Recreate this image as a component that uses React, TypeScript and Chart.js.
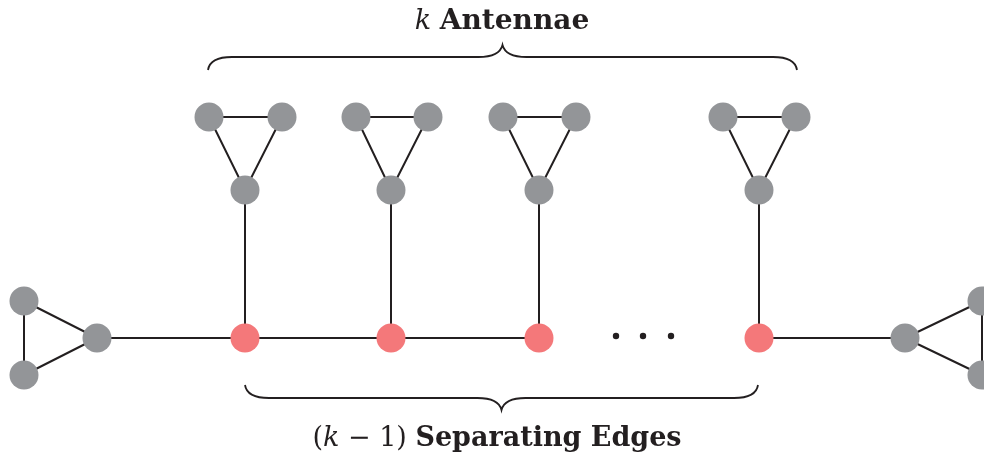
import { useEffect, useRef } from "react";
import { Chart, registerables } from "chart.js";
Chart.register(...registerables);

// Node positions (diagram units = pixels of a 984x452 layout)
const nodeX = [24, 24, 97, 245, 391, 539, 759, 905, 982, 982, 245, 209, 282, 391, 356, 428, 539, 503, 576, 759, 723, 796];
const nodeY = [301, 375, 338, 338, 338, 338, 338, 338, 301, 375, 190, 117, 117, 190, 117, 117, 190, 117, 117, 190, 117, 117];
const redNodes = [3, 4, 5, 6];
const edgeFrom = [0, 0, 1, 2, 3, 4, 6, 7, 7, 8, 3, 10, 10, 11, 4, 13, 13, 14, 5, 16, 16, 17, 6, 19, 19, 20];
const edgeTo = [1, 2, 2, 3, 4, 5, 7, 8, 9, 9, 10, 11, 12, 12, 13, 14, 15, 15, 16, 17, 18, 18, 19, 20, 21, 21];
const dotX = [616, 643, 671];
const dotY = [336, 336, 336];
// Braces: [x start, x end, y of ends, y of line, y of tip]
const braceTop = [208, 797, 70, 57, 45];
const braceBottom = [245, 758, 385, 398, 410];
const topLabel = ["k", " ", "Antennae"];
const bottomLabel = ["(", "k", " − 1) ", "Separating Edges"];

const GRAY = "#939598";
const RED = "#f4787a";
const INK = "#231f20";

export default function App() {
  const ref = useRef<HTMLCanvasElement | null>(null);
  useEffect(() => {
    if (!ref.current) return;
    const grayIdx = nodeX.map((_, i) => i).filter((i) => !redNodes.includes(i));
    const edgeData: any[] = [];
    edgeFrom.forEach((a, k) => {
      const b = edgeTo[k];
      edgeData.push({ x: nodeX[a], y: nodeY[a] }, { x: nodeX[b], y: nodeY[b] }, { x: NaN, y: NaN });
    });

    const drawBrace = (ctx: CanvasRenderingContext2D, sx: any, sy: any, br: number[]) => {
      const [x0, x1, ye, yl, yt] = br;
      const xm = (x0 + x1) / 2;
      const P = (x: number, y: number) => [sx.getPixelForValue(x), sy.getPixelForValue(y)];
      const r = 24;
      ctx.save();
      ctx.strokeStyle = INK;
      ctx.lineWidth = 1.8;
      ctx.beginPath();
      let p = P(x0, ye);
      ctx.moveTo(p[0], p[1]);
      let c = P(x0 + 2, yl);
      let e = P(x0 + r, yl);
      ctx.quadraticCurveTo(c[0], c[1], e[0], e[1]);
      e = P(xm - r, yl);
      ctx.lineTo(e[0], e[1]);
      c = P(xm - 3, yl);
      e = P(xm, yt);
      ctx.quadraticCurveTo(c[0], c[1], e[0], e[1]);
      c = P(xm + 3, yl);
      e = P(xm + r, yl);
      ctx.quadraticCurveTo(c[0], c[1], e[0], e[1]);
      e = P(x1 - r, yl);
      ctx.lineTo(e[0], e[1]);
      c = P(x1 - 2, yl);
      e = P(x1, ye);
      ctx.quadraticCurveTo(c[0], c[1], e[0], e[1]);
      ctx.stroke();
      ctx.restore();
    };

    const drawLabel = (ctx: CanvasRenderingContext2D, parts: string[], fonts: string[], cx: number, cy: number) => {
      ctx.save();
      ctx.fillStyle = INK;
      ctx.textBaseline = "alphabetic";
      ctx.textAlign = "left";
      const widths = parts.map((t, i) => {
        ctx.font = fonts[i];
        return ctx.measureText(t).width;
      });
      const total = widths.reduce((a, b) => a + b, 0);
      let x = cx - total / 2;
      parts.forEach((t, i) => {
        ctx.font = fonts[i];
        ctx.fillText(t, x, cy);
        x += widths[i];
      });
      ctx.restore();
    };

    const annot = {
      id: "annot",
      afterDatasetsDraw(chart: any) {
        const ctx = chart.ctx as CanvasRenderingContext2D;
        const sx = chart.scales.x;
        const sy = chart.scales.y;
        drawBrace(ctx, sx, sy, braceTop);
        drawBrace(ctx, sx, sy, braceBottom);
        const ser = '"DejaVu Serif", serif';
        drawLabel(ctx, topLabel, [`italic 27px ${ser}`, `27px ${ser}`, `bold 28px ${ser}`], sx.getPixelForValue(502), sy.getPixelForValue(29));
        drawLabel(
          ctx,
          bottomLabel,
          [`27px ${ser}`, `italic 27px ${ser}`, `27px ${ser}`, `bold 27px ${ser}`],
          sx.getPixelForValue(497),
          sy.getPixelForValue(446)
        );
      },
    };

    const chart = new Chart(ref.current, {
      type: "scatter",
      data: {
        datasets: [
          {
            data: grayIdx.map((i) => ({ x: nodeX[i], y: nodeY[i] })),
            pointRadius: 14.5,
            pointBackgroundColor: GRAY,
            pointBorderWidth: 0,
            clip: false as any,
            order: 1,
          },
          {
            data: redNodes.map((i) => ({ x: nodeX[i], y: nodeY[i] })),
            pointRadius: 14.5,
            pointBackgroundColor: RED,
            pointBorderWidth: 0,
            clip: false as any,
            order: 1,
          },
          {
            data: dotX.map((x, i) => ({ x, y: dotY[i] })),
            pointRadius: 3.2,
            pointBackgroundColor: INK,
            pointBorderWidth: 0,
            order: 1,
          },
          {
            data: edgeData,
            showLine: true,
            spanGaps: false,
            borderColor: INK,
            borderWidth: 2,
            pointRadius: 0,
            clip: false as any,
            order: 2,
          },
        ],
      },
      options: {
        animation: false,
        responsive: true,
        maintainAspectRatio: false,
        layout: { padding: 0, autoPadding: false } as any,
        plugins: { legend: { display: false }, tooltip: { enabled: false } },
        events: [],
        scales: {
          x: { type: "linear", min: 0, max: 984, display: false },
          y: { type: "linear", min: 0, max: 452, reverse: true, display: false },
        },
      },
      plugins: [annot],
    });
    return () => chart.destroy();
  }, []);
  return (
    <div style={{ position: "absolute", left: 0, top: 0, width: 984, height: 452, background: "#fff" }}>
      <canvas ref={ref} />
    </div>
  );
}
